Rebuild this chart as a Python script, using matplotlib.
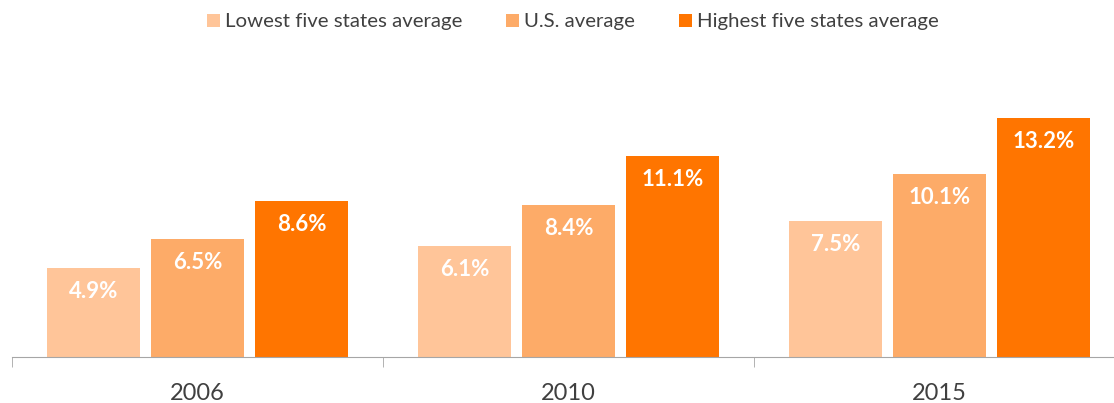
import numpy as np
import matplotlib.pyplot as plt

years = ['2006', '2010', '2015']
series = ['Lowest five states average', 'U.S. average', 'Highest five states average']
lowest = [4.9, 6.1, 7.5]
us_avg = [6.5, 8.4, 10.1]
highest = [8.6, 11.1, 13.2]
colors = ['#FFC599', '#FDAB68', '#FF7500']

plt.rcParams['font.family'] = ['Lato', 'DejaVu Sans']

fig = plt.figure(figsize=(11.14, 4.03), dpi=100)
# axis runs a bit past the right edge, like the original
ax = fig.add_axes([12/1114, 46/403, 1113/1114, 272/403])

x = np.arange(len(years))
width = 0.251
offsets = [-0.28, 0, 0.28]
for vals, off, c, name in zip([lowest, us_avg, highest], offsets, colors, series):
    bars = ax.bar(x + off, vals, width, color=c, label=name, zorder=2)
    for b, v in zip(bars, vals):
        ax.text(b.get_x() + b.get_width() / 2, v - 0.72, f'{v:.1f}%',
                ha='center', va='top', color='white', fontsize=16, fontweight='bold')

ax.set_xlim(-0.5, 2.5)
ax.set_ylim(0, 15)
ax.set_yticks([])
for s in ['top', 'right', 'left']:
    ax.spines[s].set_visible(False)
ax.spines['bottom'].set_color('#A6A6A6')
ax.set_xticks(x)
ax.set_xticklabels(years, fontsize=17, color='#404040')
ax.tick_params(axis='x', which='major', length=0, pad=19)
ax.set_xticks([-0.5, 0.5, 1.5, 2.5], minor=True)
ax.tick_params(axis='x', which='minor', length=7, color='#A6A6A6')

fig.legend(loc='center', ncol=3, frameon=False, fontsize=14.7,
           bbox_to_anchor=(573/1114, 1 - 22/403), handlelength=0.64, handleheight=0.64,
           handletextpad=0.25, columnspacing=2.15, labelcolor='#404040')

fig.savefig('out.png', dpi=100)
